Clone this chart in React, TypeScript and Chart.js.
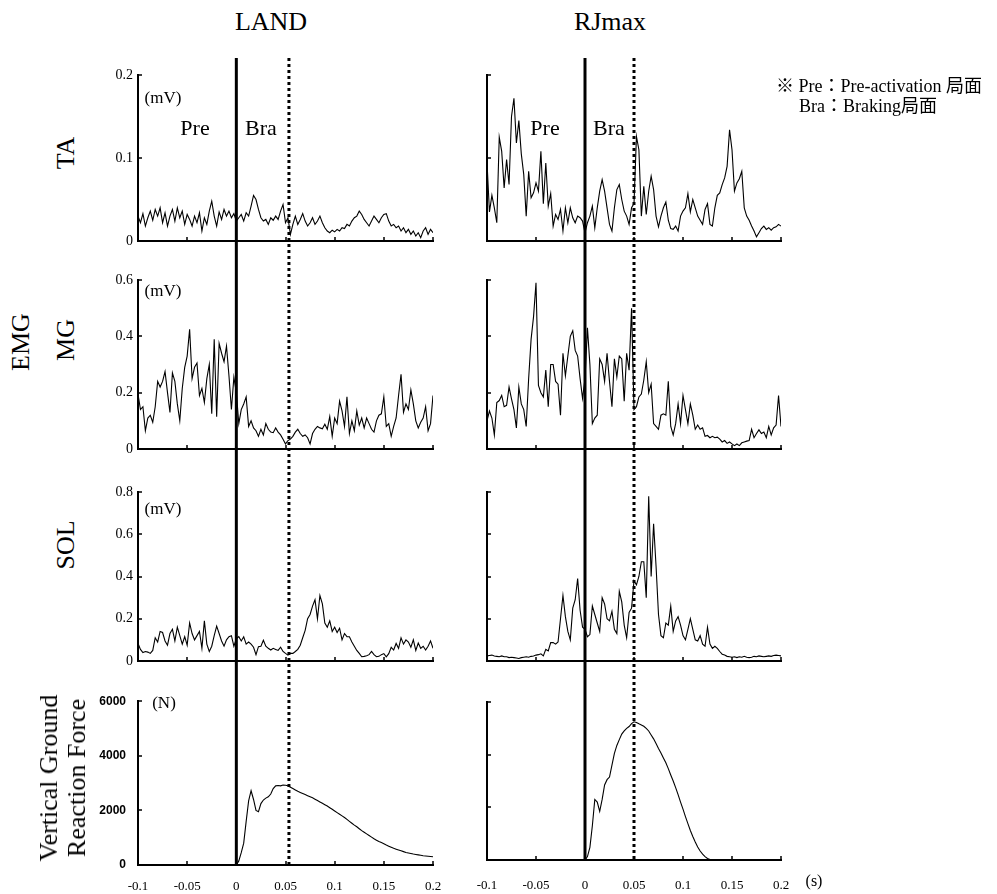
import React, { useEffect, useRef } from 'react';
import { Chart, registerables } from 'chart.js';

Chart.register(...registerables);

const SERIF = '"Liberation Serif", "Times New Roman", "Noto Sans CJK JP", serif';
const SANS = '"Liberation Sans", Arial, sans-serif';

// ---- sampling of the traces (seconds) ----
const sampleStep = 0.0025;
const emgStart = -0.1;
const vgrfStart = 0;

// ---- tick values / labels ----
const xTickValues = [-0.1, -0.05, 0, 0.05, 0.1, 0.15, 0.2];
const xTickLabels = ['-0.1', '-0.05', '0', '0.05', '0.1', '0.15', '0.2'];
const taTicks = [0, 0.1, 0.2];
const taTickLabels = ['0', '0.1', '0.2'];
const mgTicks = [0, 0.2, 0.4, 0.6];
const mgTickLabels = ['0', '0.2', '0.4', '0.6'];
const solTicks = [0, 0.2, 0.4, 0.6, 0.8];
const solTickLabels = ['0', '0.2', '0.4', '0.6', '0.8'];
const vgrfTicks = [0, 2000, 4000, 6000];
const vgrfTickLabels = ['0', '2000', '4000', '6000'];

// ---- phase markers (touchdown, end of braking) ----
const landMarkers = [0, 0.0535];
const rjMarkers = [0, 0.05];

// ---- EMG traces (mV), -0.1 .. 0.2 s ----
const taLand = [
  0.030, 0.022, 0.033, 0.018, 0.028, 0.036, 0.025, 0.038, 0.030, 0.040,
  0.022, 0.034, 0.018, 0.030, 0.038, 0.024, 0.040, 0.028, 0.036, 0.020,
  0.032, 0.026, 0.018, 0.030, 0.022, 0.034, 0.012, 0.028, 0.020, 0.036,
  0.048, 0.030, 0.018, 0.035, 0.026, 0.038, 0.030, 0.036, 0.028, 0.033,
  0.024, 0.028, 0.032, 0.024, 0.034, 0.030, 0.042, 0.055, 0.050, 0.038,
  0.028, 0.024, 0.026, 0.020, 0.028, 0.025, 0.030, 0.026, 0.036, 0.044,
  0.022, 0.028, 0.008, 0.020, 0.030, 0.020, 0.026, 0.033, 0.024, 0.018,
  0.022, 0.028, 0.020, 0.024, 0.030, 0.022, 0.016, 0.012, 0.010, 0.013,
  0.011, 0.014, 0.012, 0.016, 0.015, 0.020, 0.018, 0.024, 0.028, 0.030,
  0.036, 0.032, 0.026, 0.022, 0.018, 0.024, 0.030, 0.026, 0.022, 0.028,
  0.032, 0.033, 0.024, 0.018, 0.020, 0.016, 0.018, 0.012, 0.016, 0.010,
  0.014, 0.008, 0.012, 0.006, 0.010, 0.004, 0.012, 0.016, 0.008, 0.014,
  0.010,
];
const taRj = [
  0.095, 0.035, 0.055, 0.040, 0.022, 0.125, 0.108, 0.064, 0.098, 0.068,
  0.150, 0.172, 0.118, 0.145, 0.105, 0.080, 0.030, 0.084, 0.052, 0.058,
  0.070, 0.060, 0.108, 0.045, 0.094, 0.042, 0.057, 0.018, 0.032, 0.026,
  0.038, 0.012, 0.040, 0.022, 0.040, 0.028, 0.022, 0.030, 0.028, 0.024,
  0.010, 0.022, 0.030, 0.042, 0.016, 0.040, 0.060, 0.074, 0.060, 0.040,
  0.020, 0.012, 0.040, 0.062, 0.068, 0.050, 0.036, 0.030, 0.020, 0.040,
  0.045, 0.126, 0.110, 0.030, 0.066, 0.032, 0.060, 0.078, 0.062, 0.030,
  0.017, 0.030, 0.040, 0.047, 0.025, 0.015, 0.014, 0.018, 0.012, 0.030,
  0.036, 0.040, 0.057, 0.035, 0.050, 0.040, 0.030, 0.025, 0.020, 0.038,
  0.045, 0.020, 0.018, 0.040, 0.055, 0.058, 0.068, 0.076, 0.090, 0.134,
  0.110, 0.060, 0.070, 0.075, 0.084, 0.040, 0.030, 0.025, 0.018, 0.012,
  0.005, 0.010, 0.015, 0.018, 0.014, 0.016, 0.013, 0.016, 0.017, 0.020,
  0.018,
];
const mgLand = [
  0.195, 0.140, 0.150, 0.065, 0.110, 0.120, 0.095, 0.150, 0.240, 0.220,
  0.240, 0.275, 0.200, 0.130, 0.270, 0.240, 0.160, 0.100, 0.215, 0.290,
  0.330, 0.425, 0.250, 0.290, 0.305, 0.190, 0.215, 0.165, 0.250, 0.300,
  0.125, 0.390, 0.115, 0.375, 0.340, 0.310, 0.365, 0.260, 0.140, 0.255,
  0.200, 0.090, 0.140, 0.160, 0.185, 0.080, 0.100, 0.075, 0.065, 0.045,
  0.070, 0.050, 0.090, 0.070, 0.060, 0.058, 0.075, 0.060, 0.050, 0.035,
  0.018, 0.030, 0.035, 0.045, 0.060, 0.070, 0.055, 0.045, 0.050, 0.040,
  0.018, 0.055, 0.070, 0.080, 0.075, 0.072, 0.088, 0.070, 0.115, 0.045,
  0.110, 0.090, 0.170, 0.135, 0.080, 0.185, 0.055, 0.100, 0.065, 0.135,
  0.085, 0.110, 0.075, 0.110, 0.090, 0.070, 0.060, 0.100, 0.120, 0.125,
  0.185, 0.080, 0.090, 0.045, 0.080, 0.110, 0.190, 0.265, 0.130, 0.160,
  0.140, 0.210, 0.160, 0.100, 0.075, 0.095, 0.110, 0.150, 0.065, 0.090,
  0.190,
];
const mgRj = [
  0.100, 0.135, 0.110, 0.050, 0.165, 0.172, 0.190, 0.150, 0.155, 0.220,
  0.178, 0.140, 0.075, 0.220, 0.160, 0.140, 0.080, 0.250, 0.390, 0.470,
  0.590, 0.226, 0.200, 0.185, 0.280, 0.150, 0.300, 0.300, 0.240, 0.230,
  0.120, 0.340, 0.260, 0.330, 0.400, 0.420, 0.350, 0.330, 0.250, 0.180,
  0.250, 0.430, 0.300, 0.090, 0.110, 0.120, 0.320, 0.300, 0.240, 0.340,
  0.240, 0.150, 0.320, 0.255, 0.330, 0.320, 0.170, 0.340, 0.280, 0.500,
  0.140, 0.150, 0.185, 0.195, 0.245, 0.310, 0.200, 0.230, 0.090, 0.080,
  0.070, 0.120, 0.125, 0.120, 0.240, 0.080, 0.050, 0.090, 0.160, 0.090,
  0.190, 0.140, 0.090, 0.160, 0.120, 0.070, 0.085, 0.070, 0.075, 0.045,
  0.048, 0.040, 0.045, 0.040, 0.042, 0.035, 0.025, 0.030, 0.020, 0.025,
  0.018, 0.012, 0.018, 0.012, 0.022, 0.025, 0.028, 0.030, 0.070, 0.040,
  0.055, 0.068, 0.055, 0.060, 0.040, 0.080, 0.050, 0.075, 0.085, 0.190,
  0.080,
];
const solLand = [
  0.083, 0.055, 0.040, 0.045, 0.042, 0.036, 0.050, 0.110, 0.090, 0.140,
  0.135, 0.095, 0.075, 0.130, 0.150, 0.095, 0.160, 0.120, 0.080, 0.115,
  0.075, 0.180, 0.130, 0.100, 0.120, 0.140, 0.060, 0.190, 0.080, 0.045,
  0.070, 0.120, 0.165, 0.130, 0.095, 0.070, 0.100, 0.115, 0.120, 0.070,
  0.105, 0.115, 0.095, 0.115, 0.080, 0.090, 0.080, 0.065, 0.030, 0.068,
  0.070, 0.098, 0.070, 0.060, 0.052, 0.060, 0.055, 0.050, 0.065, 0.045,
  0.036, 0.028, 0.036, 0.036, 0.045, 0.055, 0.075, 0.110, 0.145, 0.200,
  0.220, 0.260, 0.290, 0.200, 0.310, 0.270, 0.180, 0.160, 0.190, 0.140,
  0.160, 0.135, 0.155, 0.100, 0.130, 0.115, 0.115, 0.090, 0.070, 0.050,
  0.036, 0.020, 0.022, 0.025, 0.030, 0.045, 0.030, 0.020, 0.022, 0.030,
  0.035, 0.020, 0.035, 0.065, 0.052, 0.083, 0.060, 0.110, 0.080, 0.100,
  0.090, 0.065, 0.100, 0.050, 0.085, 0.060, 0.070, 0.052, 0.070, 0.095,
  0.060,
];
const solRj = [
  0.024, 0.026, 0.028, 0.024, 0.022, 0.020, 0.024, 0.020, 0.020, 0.016,
  0.018, 0.016, 0.014, 0.012, 0.016, 0.018, 0.020, 0.018, 0.022, 0.024,
  0.028, 0.030, 0.034, 0.024, 0.055, 0.048, 0.087, 0.087, 0.080, 0.090,
  0.200, 0.310, 0.210, 0.140, 0.100, 0.250, 0.290, 0.390, 0.240, 0.160,
  0.150, 0.115, 0.125, 0.260, 0.220, 0.180, 0.140, 0.300, 0.270, 0.200,
  0.190, 0.235, 0.150, 0.130, 0.330, 0.280, 0.170, 0.110, 0.230, 0.250,
  0.380, 0.360, 0.400, 0.470, 0.470, 0.300, 0.780, 0.400, 0.650, 0.450,
  0.220, 0.120, 0.110, 0.180, 0.170, 0.260, 0.140, 0.190, 0.210, 0.170,
  0.120, 0.100, 0.150, 0.200, 0.150, 0.100, 0.095, 0.120, 0.080, 0.070,
  0.160, 0.080, 0.060, 0.070, 0.060, 0.045, 0.032, 0.028, 0.022, 0.020,
  0.018, 0.020, 0.016, 0.020, 0.018, 0.022, 0.018, 0.016, 0.018, 0.022,
  0.020, 0.024, 0.022, 0.020, 0.022, 0.024, 0.022, 0.026, 0.028, 0.026,
  0.024,
];

// ---- vertical ground reaction force (N), from touchdown ----
const vgrfLand = [
  0, 150, 450, 800, 1600, 2350, 2720, 2400, 2000, 1950,
  2250, 2380, 2450, 2500, 2600, 2800, 2900, 2910, 2900, 2930,
  2920, 2900, 2850, 2800, 2750, 2700, 2660, 2620, 2580, 2540,
  2500, 2460, 2410, 2360, 2310, 2260, 2210, 2160, 2100, 2040,
  1980, 1920, 1860, 1800, 1740, 1670, 1600, 1530, 1460, 1400,
  1330, 1260, 1200, 1140, 1080, 1020, 960, 910, 860, 820,
  780, 730, 690, 650, 610, 580, 550, 520, 490, 460,
  440, 420, 400, 385, 370, 355, 340, 330, 320, 310,
  300,
];
const vgrfRj = [
  0, 130, 480, 1300, 2300, 2200, 1850, 2300, 2850, 3050,
  3150, 3600, 4050, 4350, 4570, 4780, 4900, 5000, 5070, 5180,
  5250, 5220, 5170, 5130, 5080, 5000, 4900, 4750, 4600, 4420,
  4230, 4060, 3870, 3690, 3470, 3230, 3000, 2750, 2480, 2200,
  1930, 1650, 1380, 1120, 890, 680, 490, 340, 220, 130,
  60, 15, 0,
];

type Rect = { l: number; t: number; r: number; b: number };
type PanelSpec = {
  key: string;
  values: number[];
  start: number;
  yMax: number;
  yTicks: number[];
  yLabels: string[];
  showY: boolean;
  showX: boolean;
  ySans?: boolean;
  yPad: number;
  xPad: number;
  markers: number[];
  canvas: Rect;
  plot: Rect;
  lineTop: number | null; // page y where the marker lines start (null = canvas top)
  lineToArea: boolean;
};

const Y_AXIS_W = 44;
const X_AXIS_H = 30;

const LEFT_C = { l: 88, r: 462 };
const RIGHT_C = { l: 447, r: 820 };
const LEFT_P = { l: 138, r: 433 };
const RIGHT_P = { l: 487, r: 781 };

const panels: PanelSpec[] = [
  { key: 'taL', values: taLand, start: emgStart, yMax: 0.2, yTicks: taTicks, yLabels: taTickLabels, showY: true, showX: false, yPad: 5, xPad: 0, markers: landMarkers,
    canvas: { ...LEFT_C, t: 50, b: 262 }, plot: { ...LEFT_P, t: 75, b: 241 }, lineTop: 58, lineToArea: false },
  { key: 'mgL', values: mgLand, start: emgStart, yMax: 0.6, yTicks: mgTicks, yLabels: mgTickLabels, showY: true, showX: false, yPad: 5, xPad: 0, markers: landMarkers,
    canvas: { ...LEFT_C, t: 262, b: 472 }, plot: { ...LEFT_P, t: 280, b: 449 }, lineTop: null, lineToArea: false },
  { key: 'solL', values: solLand, start: emgStart, yMax: 0.8, yTicks: solTicks, yLabels: solTickLabels, showY: true, showX: false, yPad: 5, xPad: 0, markers: landMarkers,
    canvas: { ...LEFT_C, t: 472, b: 682 }, plot: { ...LEFT_P, t: 492, b: 661 }, lineTop: null, lineToArea: false },
  { key: 'vgL', values: vgrfLand, start: vgrfStart, yMax: 6000, yTicks: vgrfTicks, yLabels: vgrfTickLabels, showY: true, showX: true, ySans: true, yPad: 12, xPad: 14, markers: landMarkers,
    canvas: { ...LEFT_C, t: 682, b: 894 }, plot: { ...LEFT_P, t: 699, b: 865 }, lineTop: null, lineToArea: true },
  { key: 'taR', values: taRj, start: emgStart, yMax: 0.2, yTicks: taTicks, yLabels: taTickLabels, showY: false, showX: false, yPad: 5, xPad: 0, markers: rjMarkers,
    canvas: { ...RIGHT_C, t: 50, b: 262 }, plot: { ...RIGHT_P, t: 75, b: 241 }, lineTop: 58, lineToArea: false },
  { key: 'mgR', values: mgRj, start: emgStart, yMax: 0.6, yTicks: mgTicks, yLabels: mgTickLabels, showY: false, showX: false, yPad: 5, xPad: 0, markers: rjMarkers,
    canvas: { ...RIGHT_C, t: 262, b: 472 }, plot: { ...RIGHT_P, t: 280, b: 449 }, lineTop: null, lineToArea: false },
  { key: 'solR', values: solRj, start: emgStart, yMax: 0.8, yTicks: solTicks, yLabels: solTickLabels, showY: false, showX: false, yPad: 5, xPad: 0, markers: rjMarkers,
    canvas: { ...RIGHT_C, t: 472, b: 682 }, plot: { ...RIGHT_P, t: 492, b: 661 }, lineTop: null, lineToArea: false },
  { key: 'vgR', values: vgrfRj, start: vgrfStart, yMax: 6000, yTicks: vgrfTicks, yLabels: vgrfTickLabels, showY: false, showX: true, yPad: 5, xPad: 18, markers: rjMarkers,
    canvas: { ...RIGHT_C, t: 682, b: 894 }, plot: { ...RIGHT_P, t: 702, b: 860 }, lineTop: null, lineToArea: true },
];

function makeDecor(spec: PanelSpec) {
  return {
    id: 'decor_' + spec.key,
    afterDraw(chart: any) {
      const { ctx, chartArea: a, scales } = chart;
      const xs = scales.x;
      const ys = scales.y;
      ctx.save();
      ctx.strokeStyle = '#000';
      ctx.lineWidth = 1.5;
      ctx.beginPath();
      for (const t of ys.ticks) {
        if (t.value <= ys.min) continue;
        const py = Math.round(ys.getPixelForValue(t.value));
        ctx.moveTo(a.left, py);
        ctx.lineTo(a.left + 4, py);
      }
      for (const t of xs.ticks) {
        if (t.value <= xs.min) continue;
        const px = Math.round(xs.getPixelForValue(t.value));
        ctx.moveTo(px, a.bottom);
        ctx.lineTo(px, a.bottom - 4);
      }
      ctx.stroke();
      const top = spec.lineTop === null ? 0 : spec.lineTop - spec.canvas.t;
      const bottom = spec.lineToArea ? a.bottom : chart.height;
      spec.markers.forEach((m, i) => {
        const px = xs.getPixelForValue(m);
        ctx.lineWidth = 3;
        ctx.setLineDash(i === 0 ? [] : [3, 3]);
        ctx.beginPath();
        ctx.moveTo(px, top);
        ctx.lineTo(px, bottom);
        ctx.stroke();
      });
      ctx.restore();
    },
  };
}

function Panel({ spec }: { spec: PanelSpec }) {
  const ref = useRef<HTMLCanvasElement>(null);
  const cw = spec.canvas.r - spec.canvas.l;
  const ch = spec.canvas.b - spec.canvas.t;
  useEffect(() => {
    const canvas = ref.current;
    if (!canvas) return;
    const yW = spec.showY ? Y_AXIS_W : 0;
    const xH = spec.showX ? X_AXIS_H : 0;
    const pts = spec.values.map((v, i) => ({ x: spec.start + i * sampleStep, y: v }));
    const yFont = spec.ySans
      ? { family: SANS, size: 12, weight: 'bold' as const }
      : { family: SERIF, size: 14 };
    const chart = new Chart(canvas, {
      type: 'line',
      data: {
        datasets: [
          {
            data: pts,
            borderColor: '#000',
            borderWidth: 1.1,
            pointRadius: 0,
            fill: false,
            tension: 0,
          },
        ],
      },
      options: {
        animation: false,
        responsive: false,
        events: [],
        layout: {
          autoPadding: false,
          padding: {
            left: spec.plot.l - spec.canvas.l - yW,
            right: spec.canvas.r - spec.plot.r,
            top: spec.plot.t - spec.canvas.t,
            bottom: spec.canvas.b - spec.plot.b - xH,
          },
        },
        plugins: { legend: { display: false }, tooltip: { enabled: false } },
        scales: {
          x: {
            type: 'linear',
            min: -0.1,
            max: 0.2,
            grid: { display: false, drawTicks: false },
            border: { display: true, color: '#000', width: 2 },
            afterBuildTicks: (sc: any) => {
              sc.ticks = xTickValues.map((v) => ({ value: v }));
            },
            ticks: {
              display: spec.showX,
              autoSkip: false,
              maxRotation: 0,
              color: '#000',
              padding: spec.xPad,
              font: { family: SERIF, size: 13 },
              callback: (_v: any, i: number) => xTickLabels[i],
            },
            afterFit: (sc: any) => {
              sc.height = xH;
            },
          },
          y: {
            type: 'linear',
            min: 0,
            max: spec.yMax,
            grid: { display: false, drawTicks: false },
            border: { display: true, color: '#000', width: 2 },
            afterBuildTicks: (sc: any) => {
              sc.ticks = spec.yTicks.map((v) => ({ value: v }));
            },
            ticks: {
              display: spec.showY,
              autoSkip: false,
              color: '#000',
              padding: spec.yPad,
              font: yFont,
              callback: (_v: any, i: number) => spec.yLabels[i],
            },
            afterFit: (sc: any) => {
              sc.width = yW;
            },
          },
        },
      } as any,
      plugins: [makeDecor(spec)],
    });
    return () => chart.destroy();
  }, []);
  return (
    <canvas
      ref={ref}
      width={cw}
      height={ch}
      style={{ position: 'absolute', left: spec.canvas.l, top: spec.canvas.t, width: cw, height: ch }}
    />
  );
}

type Label = { text: string; x: number; y: number; size: number; rotate?: boolean; align?: 'left' | 'center' };

const labels: Label[] = [
  { text: 'LAND', x: 271, y: 22, size: 26 },
  { text: 'RJmax', x: 610, y: 22, size: 26 },
  { text: 'TA', x: 66, y: 153, size: 26, rotate: true },
  { text: 'EMG', x: 21, y: 342, size: 26, rotate: true },
  { text: 'MG', x: 66, y: 340, size: 26, rotate: true },
  { text: 'SOL', x: 66, y: 545, size: 26, rotate: true },
  { text: '(mV)', x: 163, y: 97, size: 17 },
  { text: '(mV)', x: 163, y: 290, size: 17 },
  { text: '(mV)', x: 163, y: 508, size: 17 },
  { text: '(N)', x: 164, y: 702, size: 17 },
  { text: 'Pre', x: 195, y: 128, size: 22 },
  { text: 'Bra', x: 261, y: 128, size: 22 },
  { text: 'Pre', x: 545, y: 128, size: 22 },
  { text: 'Bra', x: 609, y: 128, size: 22 },
  { text: '(s)', x: 814, y: 881, size: 16 },
  { text: '※ Pre：Pre-activation 局面', x: 776, y: 86, size: 18, align: 'left' },
  { text: 'Bra：Braking局面', x: 799, y: 106, size: 18, align: 'left' },
];

function TextLabel({ l }: { l: Label }) {
  const transform = l.align === 'left'
    ? 'translate(0,-50%)'
    : l.rotate
      ? 'translate(-50%,-50%) rotate(-90deg)'
      : 'translate(-50%,-50%)';
  return (
    <div
      style={{
        position: 'absolute',
        left: l.x,
        top: l.y,
        transform,
        whiteSpace: 'nowrap',
        fontFamily: SERIF,
        fontSize: l.size,
        lineHeight: 1,
        color: '#000',
      }}
    >
      {l.text}
    </div>
  );
}

export default function App() {
  return (
    <div style={{ position: 'absolute', left: 0, top: 0, width: 997, height: 894, background: '#fff', overflow: 'hidden' }}>
      {panels.map((p) => (
        <Panel key={p.key} spec={p} />
      ))}
      {labels.map((l, i) => (
        <TextLabel key={i} l={l} />
      ))}
      <div
        style={{
          position: 'absolute',
          left: 63,
          top: 778,
          transform: 'translate(-50%,-50%) rotate(-90deg)',
          whiteSpace: 'nowrap',
          fontFamily: SERIF,
          fontSize: 26,
          lineHeight: '28px',
          textAlign: 'center',
          color: '#000',
        }}
      >
        <div>Vertical Ground</div>
        <div>Reaction Force</div>
      </div>
    </div>
  );
}
